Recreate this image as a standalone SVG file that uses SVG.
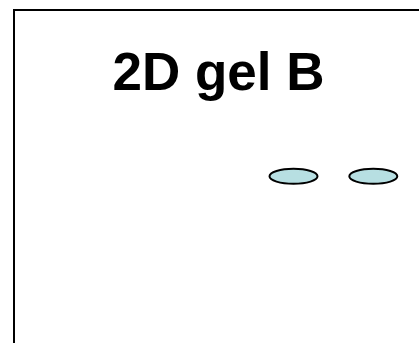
<svg xmlns="http://www.w3.org/2000/svg" width="419" height="343" viewBox="0 0 419 343">
  <style>
    .frame { fill: none; stroke: #000; stroke-width: 2; }
    .title { font-family: "Liberation Sans", Arial, sans-serif; font-weight: bold; font-size: 53px; fill: #000; }
    .spot { fill: #b7dfe2; stroke: #000; stroke-width: 2; }
  </style>
  <rect width="419" height="343" fill="#fff"/>
  <g id="frame">
    <rect class="frame" x="14" y="10" width="420" height="350"/>
  </g>
  <g id="title">
    <text class="title" x="112.5" y="89.5">2D gel B</text>
  </g>
  <g id="spot-1">
    <ellipse class="spot" cx="293.5" cy="176.3" rx="24" ry="7.5"/>
  </g>
  <g id="spot-2">
    <ellipse class="spot" cx="373.3" cy="176.3" rx="24" ry="7.5"/>
  </g>
</svg>
